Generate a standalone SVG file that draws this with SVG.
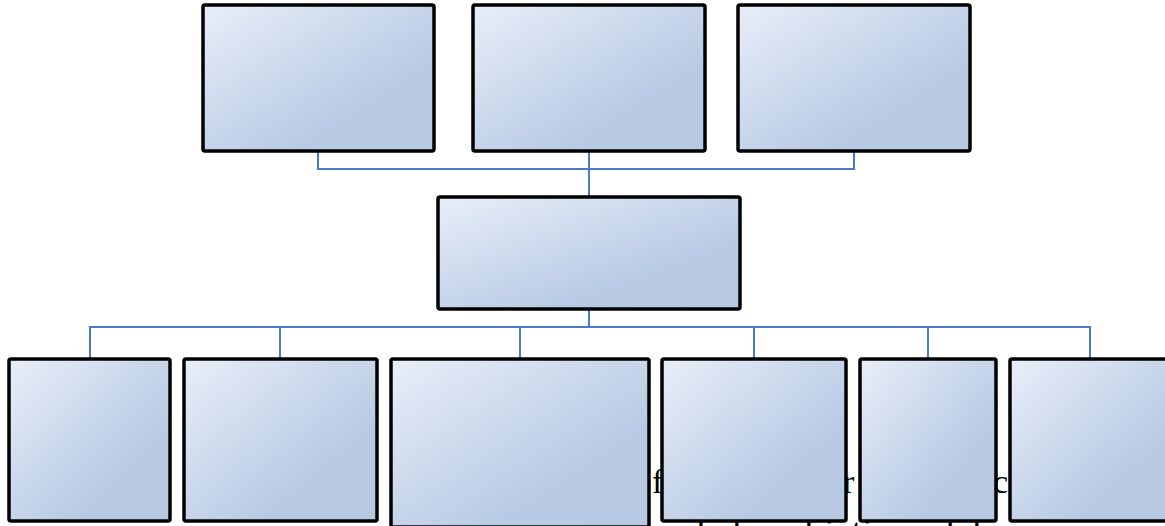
<svg xmlns="http://www.w3.org/2000/svg" width="1165" height="526" viewBox="0 0 1165 526">
<defs>
<linearGradient id="g" x1="0" y1="0" x2="1" y2="1">
<stop offset="0" stop-color="#e8eef8"/>
<stop offset="0.7" stop-color="#b8cae4"/>
<stop offset="1" stop-color="#b6c8e2"/>
</linearGradient>
<style>
.box{fill:url(#g);stroke:#000;stroke-width:3.5}
.ln{fill:none;stroke:#4a7bc8;stroke-width:2}
.t{font-family:"Liberation Serif","Times New Roman",serif;font-size:34px;fill:#000}
</style>
</defs>
<rect width="1165" height="526" fill="#fff"/>
<g id="bgtext">
<text class="t" x="652" y="493">f</text>
<text class="t" x="843" y="493">r</text>
<text class="t" x="993" y="493">c</text>
<text class="t" x="686" y="542" textLength="296" lengthAdjust="spacingAndGlyphs">de los objetivos del</text>
</g>
<g id="connectors">
<path class="ln" d="M318 151V169H854V151"/>
<path class="ln" d="M589 151V197"/>
<path class="ln" d="M589 309V327" stroke-width="2.5"/>
<path class="ln" d="M90 359V327H1090V359"/>
<path class="ln" d="M280 327V359M520 327V359M754 327V359M928 327V359"/>
</g>
<g id="top1"><rect class="box" x="203" y="5" width="231" height="146" rx="2"/></g>
<g id="top2"><rect class="box" x="473" y="5" width="232" height="146" rx="2"/></g>
<g id="top3"><rect class="box" x="738" y="5" width="232" height="146" rx="2"/></g>
<g id="mid"><rect class="box" x="438" y="197" width="302" height="112" rx="2"/></g>
<g id="b1"><rect class="box" x="9" y="359" width="161" height="162" rx="2"/></g>
<g id="b2"><rect class="box" x="184" y="359" width="193" height="162" rx="2"/></g>
<g id="b3"><rect class="box" x="391" y="359" width="258" height="168" rx="2"/></g>
<g id="b4"><rect class="box" x="662" y="359" width="184" height="162" rx="2"/></g>
<g id="b5"><rect class="box" x="860" y="359" width="136" height="162" rx="2"/></g>
<g id="b6"><rect class="box" x="1010" y="359" width="170" height="162" rx="2"/></g>
</svg>
